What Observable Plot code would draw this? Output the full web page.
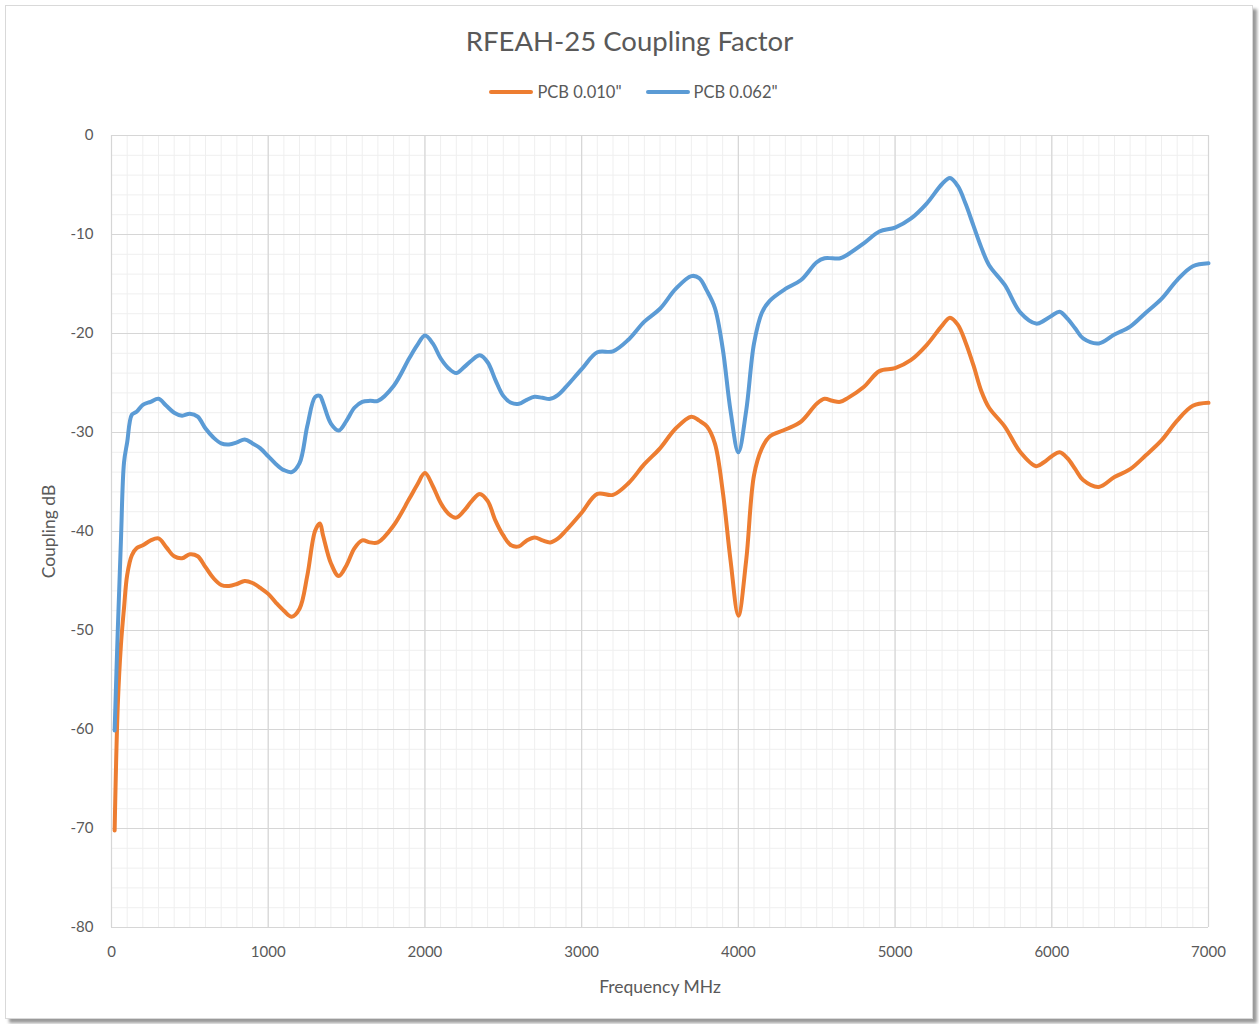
<!DOCTYPE html>
<html>
<head>
<meta charset="utf-8">
<script src="https://cdn.jsdelivr.net/npm/d3@7"></script>
<script src="https://cdn.jsdelivr.net/npm/@observablehq/plot@0.6"></script>
<style>
  html, body { margin: 0; padding: 0; background: #fff; width: 1259px; height: 1024px; overflow: hidden; }
  body { font-family: Lato, "Open Sans", sans-serif; color: #595959; position: relative; }
  #frame { position: absolute; left: 5px; top: 5px; width: 1246px; height: 1012px; border: 1px solid #d9d9d9; box-shadow: 4px 4px 3px #9a9a9a; background: #fff; }
  #title { position: absolute; left: 0; width: 1259px; top: 24px; text-align: center; font-size: 27.5px; color: #595959; }
  #legend { position: absolute; left: 0; width: 1259px; top: 82px; display: flex; justify-content: center; gap: 24px; font-size: 16.5px; color: #595959; padding-left: 4px; }
  .item { display: flex; align-items: center; gap: 4px; }
  .sw { width: 44px; height: 4px; border-radius: 2px; }
  #chart { position: absolute; left: 0; top: 110px; }
</style>
</head>
<body>
<div id="frame"></div>
<div id="title">RFEAH-25 Coupling Factor</div>
<div id="legend"></div>
<div id="chart"></div>
<script>
const seriesNames = ["PCB 0.010\"", "PCB 0.062\""];
const seriesColors = ["#ED7D31", "#5B9BD5"];
const xLabel = "Frequency MHz";
const yLabel = "Coupling dB";

const freqMHz = [20, 40, 60, 80, 100, 130, 160, 200, 250, 300, 350, 400, 450, 500, 550, 600, 650, 700, 750, 800,
  850, 900, 950, 1000, 1050, 1100, 1150, 1200, 1250, 1300, 1330, 1350, 1400, 1450, 1500, 1550, 1600, 1650, 1700,
  1800, 1900, 1950, 2000, 2050, 2100, 2150, 2200, 2250, 2300, 2350, 2400, 2450, 2500, 2550, 2600, 2650, 2700, 2750,
  2800, 2850, 2900, 3000, 3100, 3200, 3300, 3400, 3500, 3600, 3700, 3750, 3800, 3850, 3900, 3950, 4000, 4050, 4100,
  4150, 4200, 4300, 4400, 4500, 4550, 4600, 4650, 4700, 4800, 4900, 5000, 5100, 5200, 5300, 5350, 5400, 5450, 5500,
  5550, 5600, 5700, 5800, 5900, 5950, 6000, 6050, 6100, 6150, 6200, 6300, 6400, 6500, 6600, 6700, 6800, 6900, 7000];

const pcb010 = [-70.2, -57.6, -51.5, -47.7, -44.4, -42.4, -41.7, -41.4, -40.9, -40.7, -41.6, -42.5, -42.7, -42.3, -42.5, -43.6, -44.7, -45.4, -45.5, -45.3,
  -45.0, -45.2, -45.7, -46.3, -47.2, -48.0, -48.6, -47.8, -44.4, -39.9, -39.2, -40.4, -43.2, -44.5, -43.4, -41.7, -40.9, -41.1, -41.1,
  -39.4, -36.7, -35.3, -34.1, -35.4, -37.1, -38.2, -38.6, -37.9, -36.9, -36.2, -36.9, -38.9, -40.4, -41.4, -41.5, -40.9, -40.6, -40.9,
  -41.1, -40.7, -39.9, -38.1, -36.2, -36.3, -35.1, -33.2, -31.6, -29.6, -28.4, -28.8, -29.4, -31.1, -35.9, -42.9, -48.5, -42.9, -34.3,
  -31.6, -30.4, -29.7, -28.9, -27.1, -26.6, -26.8, -26.9, -26.5, -25.4, -23.8, -23.5, -22.7, -21.2, -19.2, -18.4, -19.1, -20.9, -23.2,
  -25.8, -27.5, -29.4, -32.0, -33.4, -33.0, -32.4, -32.0, -32.6, -33.7, -34.8, -35.5, -34.5, -33.7, -32.3, -30.8, -28.8, -27.3, -27.0];

const pcb062 = [-60.1, -50.0, -41.0, -33.0, -31.0, -28.2, -27.9, -27.2, -26.9, -26.6, -27.3, -28.0, -28.3, -28.1, -28.4, -29.6, -30.5, -31.1, -31.2, -31.0,
  -30.7, -31.1, -31.6, -32.4, -33.2, -33.8, -34.0, -33.1, -29.3, -26.4, -26.3, -27.0, -29.1, -29.8, -28.8, -27.5, -26.9, -26.8, -26.8,
  -25.3, -22.5, -21.2, -20.2, -21.0, -22.5, -23.5, -24.0, -23.4, -22.7, -22.2, -22.9, -24.7, -26.3, -27.0, -27.1, -26.7, -26.4, -26.5,
  -26.6, -26.2, -25.4, -23.6, -21.9, -21.8, -20.6, -18.8, -17.5, -15.5, -14.2, -14.4, -15.7, -17.4, -21.5, -27.8, -32.0, -27.8, -21.0,
  -17.9, -16.7, -15.5, -14.6, -12.8, -12.4, -12.4, -12.4, -12.0, -10.9, -9.7, -9.3, -8.4, -6.9, -4.9, -4.3, -5.1, -6.9, -9.1,
  -11.3, -13.1, -15.1, -17.9, -19.0, -18.7, -18.2, -17.8, -18.5, -19.5, -20.5, -21.0, -20.1, -19.3, -17.9, -16.5, -14.6, -13.2, -12.9];

const xTicks = [0, 1000, 2000, 3000, 4000, 5000, 6000, 7000];
const yTicks = [0, -10, -20, -30, -40, -50, -60, -70, -80];
const xMinor = d3.range(0, 7001, 100);
const yMinor = d3.range(-80, 1, 2);

const rows = [];
[pcb010, pcb062].forEach((vals, s) => {
  vals.forEach((v, i) => rows.push({series: seriesNames[s], f: freqMHz[i], v}));
});

// legend
const legend = document.getElementById("legend");
seriesNames.forEach((n, i) => {
  const it = document.createElement("div");
  it.className = "item";
  const sw = document.createElement("div");
  sw.className = "sw";
  sw.style.background = seriesColors[i];
  const tx = document.createElement("span");
  tx.textContent = n;
  it.appendChild(sw); it.appendChild(tx);
  legend.appendChild(it);
});

const chart = Plot.plot({
  width: 1259,
  height: 914,
  marginLeft: 111,
  marginRight: 51,
  marginTop: 25,
  marginBottom: 97,
  style: {fontFamily: "Lato, 'Open Sans', sans-serif", fontSize: "15px", color: "#595959", background: "transparent", overflow: "visible"},
  x: {domain: [0, 7000]},
  y: {domain: [-80, 0]},
  color: {domain: seriesNames, range: seriesColors},
  marks: [
    Plot.ruleX(xMinor, {stroke: "#efefef", strokeWidth: 1}),
    Plot.ruleY(yMinor, {stroke: "#efefef", strokeWidth: 1}),
    Plot.ruleX(xTicks, {stroke: "#d6d6d6", strokeWidth: 1.2}),
    Plot.ruleY(yTicks, {stroke: "#d6d6d6", strokeWidth: 1.2}),
    Plot.axisX({ticks: xTicks, tickSize: 0, tickPadding: 19, tickFormat: d => String(d), label: null}),
    Plot.axisY({ticks: yTicks, tickSize: 0, tickPadding: 18, tickFormat: d => String(d), label: null}),
    Plot.text([xLabel], {text: d => d, frameAnchor: "bottom", dy: 60, lineAnchor: "middle", fontSize: 17.5, fill: "#595959"}),
    Plot.text([yLabel], {text: d => d, frameAnchor: "left", textAnchor: "middle", dx: -62, rotate: -90, fontSize: 17.5, fill: "#595959"}),
    Plot.line(rows, {x: "f", y: "v", z: "series", stroke: "series", strokeWidth: 4, curve: "catmull-rom", strokeLinejoin: "round", strokeLinecap: "round"})
  ]
});
document.getElementById("chart").appendChild(chart);
</script>
</body>
</html>
